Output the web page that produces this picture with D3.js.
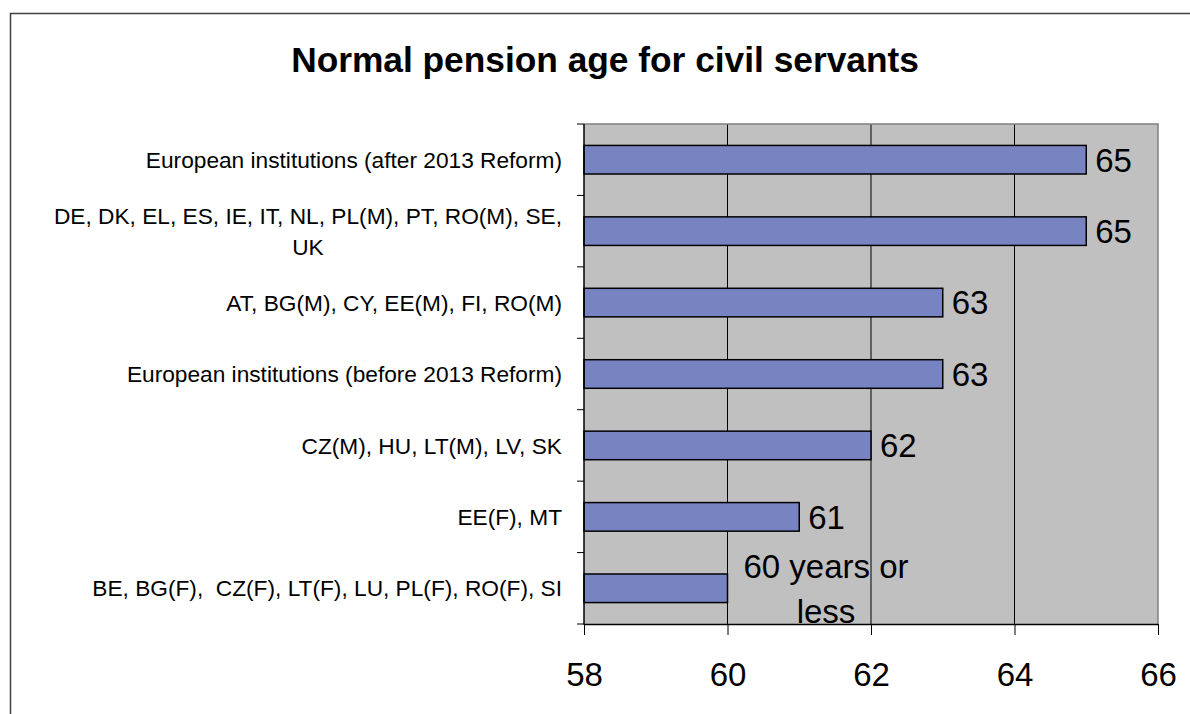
<!DOCTYPE html>
<html>
<head>
<meta charset="utf-8">
<script src="https://cdn.jsdelivr.net/npm/d3@7"></script>
<style>
  html, body { margin: 0; padding: 0; background: #fff; }
  svg { display: block; }
  text { font-family: Arial, "Liberation Sans", sans-serif; }
</style>
</head>
<body>
<svg id="chart" width="1190" height="714"></svg>
<script>
const title = "Normal pension age for civil servants";
const categories = [
  "European institutions (after 2013 Reform)",
  "DE, DK, EL, ES, IE, IT, NL, PL(M), PT, RO(M), SE, UK",
  "AT, BG(M), CY, EE(M), FI, RO(M)",
  "European institutions (before 2013 Reform)",
  "CZ(M), HU, LT(M), LV, SK",
  "EE(F), MT",
  "BE, BG(F),  CZ(F), LT(F), LU, PL(F), RO(F), SI"
];
const values = [65, 65, 63, 63, 62, 61, 60];
const valueLabels = ["65", "65", "63", "63", "62", "61", "60 years or less"];
const xTicks = [58, 60, 62, 64, 66];
const xDomain = [58, 66];

const svg = d3.select("#chart");
const plot = { left: 584, top: 124, right: 1158, bottom: 624 };

// outer frame (extends beyond the picture on right/bottom)
svg.append("rect")
  .attr("x", 10.5).attr("y", 13.5)
  .attr("width", 1200).attr("height", 760)
  .attr("fill", "#fff").attr("stroke", "#404040").attr("stroke-width", 1.5);

// title
svg.append("text")
  .attr("x", 605).attr("y", 72)
  .attr("text-anchor", "middle")
  .attr("font-size", 35.3).attr("font-weight", "bold")
  .attr("fill", "#000")
  .text(title);

const x = d3.scaleLinear().domain(xDomain).range([plot.left, plot.right]);
const y = d3.scaleBand().domain(d3.range(categories.length))
  .range([plot.top, plot.bottom]).paddingInner(0.6).paddingOuter(0.3);
const yOuter = d3.scaleBand().domain(d3.range(categories.length))
  .range([plot.top, plot.bottom]);

// plot background
svg.append("rect")
  .attr("x", plot.left).attr("y", plot.top)
  .attr("width", plot.right - plot.left).attr("height", plot.bottom - plot.top)
  .attr("fill", "#C0C0C0");

// gridlines
svg.append("g").selectAll("line")
  .data(xTicks.filter(t => t > xDomain[0] && t < xDomain[1]))
  .join("line")
  .attr("x1", d => x(d)).attr("x2", d => x(d))
  .attr("y1", plot.top).attr("y2", plot.bottom)
  .attr("stroke", "#000").attr("stroke-width", 1);

// plot border top/right (gray)
svg.append("path")
  .attr("d", `M${plot.left},${plot.top}H${plot.right}V${plot.bottom}`)
  .attr("fill", "none").attr("stroke", "#808080").attr("stroke-width", 1.5);

// bars
svg.append("g").selectAll("rect")
  .data(values)
  .join("rect")
  .attr("x", x(xDomain[0]))
  .attr("y", (d, i) => y(i))
  .attr("width", d => x(d) - x(xDomain[0]))
  .attr("height", y.bandwidth())
  .attr("fill", "#7884C2")
  .attr("stroke", "#000").attr("stroke-width", 1.5);

// bottom axis
const xAxis = svg.append("g")
  .attr("transform", `translate(0,${plot.bottom})`)
  .call(d3.axisBottom(x).tickValues(xTicks).tickSize(11).tickSizeOuter(0).tickPadding(28));
xAxis.select(".domain").attr("stroke", "#000").attr("stroke-width", 1.5);
xAxis.selectAll(".tick line").attr("stroke", "#000").attr("stroke-width", 1);
xAxis.selectAll(".tick text")
  .attr("font-family", "Arial, 'Liberation Sans', sans-serif")
  .attr("font-size", 33).attr("fill", "#000");

// left axis (ticks at category boundaries)
const boundaries = d3.range(categories.length + 1).map(i => plot.top + i * yOuter.step());
svg.append("line")
  .attr("x1", plot.left).attr("x2", plot.left)
  .attr("y1", plot.top).attr("y2", plot.bottom + 0.75)
  .attr("stroke", "#000").attr("stroke-width", 1.5);
svg.append("g").selectAll("line")
  .data(boundaries)
  .join("line")
  .attr("x1", plot.left - 7).attr("x2", plot.left)
  .attr("y1", d => d).attr("y2", d => d)
  .attr("stroke", "#000").attr("stroke-width", 1);

// category labels with wrapping
const labelFont = 22.7;
const labelRight = 562;
const wrapWidth = 545;
const lineH = 31;
const measurer = svg.append("text").attr("font-size", labelFont).style("white-space", "pre");
function measure(s) { measurer.text(s); return measurer.node().getComputedTextLength(); }
function wrap(str, maxW) {
  const words = str.split(" ");
  const lines = [];
  let cur = "";
  words.forEach(w => {
    const test = cur === "" ? w : cur + " " + w;
    if (cur !== "" && measure(test) > maxW) { lines.push(cur); cur = w; }
    else cur = test;
  });
  if (cur !== "") lines.push(cur);
  return lines;
}
const catG = svg.append("g");
categories.forEach((c, i) => {
  const lines = wrap(c, wrapWidth);
  const maxW = d3.max(lines, l => measure(l));
  const cx = labelRight - maxW / 2;
  const cy = yOuter(i) + yOuter.bandwidth() / 2;
  const t = catG.append("text")
    .attr("font-size", labelFont).attr("fill", "#000")
    .attr("text-anchor", "middle")
    .style("white-space", "pre");
  lines.forEach((l, k) => {
    t.append("tspan")
      .attr("x", cx)
      .attr("y", cy + (k - (lines.length - 1) / 2) * lineH)
      .attr("dy", "0.36em")
      .text(l);
  });
});
measurer.remove();

// value labels
const valFont = 33;
const valG = svg.append("g");
values.forEach((v, i) => {
  const cy = y(i) + y.bandwidth() / 2;
  const lbl = valueLabels[i];
  if (lbl.length > 3) {
    // wrapped label ("60 years or" / "less"), centered block
    const cut = lbl.lastIndexOf(" ");
    const parts = [lbl.slice(0, cut), lbl.slice(cut + 1)];
    const t = valG.append("text").attr("font-size", valFont).attr("fill", "#000").attr("text-anchor", "middle");
    const cx = 826;
    parts.forEach((p, k) => {
      t.append("tspan").attr("x", cx)
        .attr("y", cy + (k - (parts.length - 1) / 2) * 45)
        .attr("dy", "0.36em").text(p);
    });
  } else {
    valG.append("text")
      .attr("x", x(v) + 9).attr("y", cy).attr("dy", "0.36em")
      .attr("font-size", valFont).attr("fill", "#000")
      .text(lbl);
  }
});
</script>
</body>
</html>
